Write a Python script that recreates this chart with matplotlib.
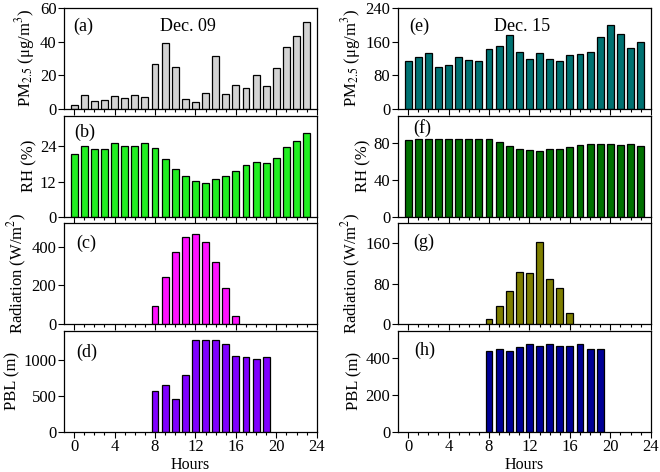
import matplotlib
matplotlib.use("Agg")
import matplotlib.pyplot as plt
import numpy as np

plt.rcParams['font.family'] = ['Liberation Serif', 'DejaVu Serif']
plt.rcParams['mathtext.fontset'] = 'stix'

hours = np.arange(24)
day_hours = np.arange(8, 20)
rad_hours = np.arange(8, 17)

# Dec. 09
pm_09 = [2.2, 8.3, 4.7, 5.1, 7.7, 6.7, 8.1, 6.9, 27, 39.5, 25, 6.1,
         4.3, 9.4, 31.3, 8.9, 14.4, 12.4, 20.5, 13.4, 24.2, 36.8, 43.5, 51.7]
rh_09 = [21.5, 24.3, 23.2, 23.1, 25.3, 24.1, 24.1, 25.1, 23.3, 19.7, 16.2, 13.9,
         12.2, 11.5, 13.0, 13.9, 15.7, 17.5, 18.7, 18.4, 20.1, 23.8, 25.7, 28.6]
rad_09 = [94, 242, 371, 450, 464, 424, 319, 187, 43]
pbl_09 = [558, 645, 447, 783, 1267, 1272, 1272, 1217, 1051, 1041, 1009, 1037]

# Dec. 15
pm_15 = [114, 124, 134, 101, 104, 123, 116, 115, 142, 150, 177, 136,
         119, 134, 120, 114, 129, 130, 135, 172, 199, 178, 146, 159]
rh_15 = [83.6, 84.7, 85, 84.7, 84.3, 84.3, 84.7, 84.3, 84.7, 81.4, 76.4, 74.2,
         72.4, 71, 73.5, 73.9, 76, 77.8, 78.6, 79.3, 79.6, 78.2, 78.6, 77.1]
rad_15 = [10, 37, 66, 104, 101, 163, 89, 71, 22]
pbl_15 = [440, 449, 441, 459, 477, 468, 477, 468, 468, 477, 450, 450]

fig = plt.figure(figsize=(6.6, 4.72), dpi=100)

lefts = [0.097, 0.603]
bottoms = [0.769, 0.541, 0.313, 0.0854]
w, h = 0.383, 0.214

pm_lab = 'PM$_{2.5}$ (\u03bcg/m$^3$)'
rad_lab = 'Radiation (W/m$^2$)'

panels = [
    # column, row, x, y, color, ylim, yticks, ylabel, tag, tag pos, title
    (0, 0, hours, pm_09, '#d3d3d3', 60, [0, 20, 40, 60], pm_lab, '(a)', (0.035, 0.82), 'Dec. 09'),
    (0, 1, hours, rh_09, '#22ee22', 34.5, [0, 12, 24], 'RH (%)', '(b)', (0.04, 0.83), None),
    (0, 2, rad_hours, rad_09, '#ff11ff', 520, [0, 200, 400], rad_lab, '(c)', (0.05, 0.80), None),
    (0, 3, day_hours, pbl_09, '#8000ff', 1400, [0, 500, 1000], 'PBL (m)', '(d)', (0.05, 0.79), None),
    (1, 0, hours, pm_15, '#007272', 240, [0, 80, 160, 240], pm_lab, '(e)', (0.045, 0.82), 'Dec. 15'),
    (1, 1, hours, rh_15, '#007000', 110, [0, 40, 80], 'RH (%)', '(f)', (0.06, 0.88), None),
    (1, 2, rad_hours, rad_15, '#7f7f00', 200, [0, 80, 160], rad_lab, '(g)', (0.06, 0.81), None),
    (1, 3, day_hours, pbl_15, '#000096', 550, [0, 200, 400], 'PBL (m)', '(h)', (0.065, 0.81), None),
]

for col, row, x, y, color, ymax, yt, ylab, tag, tpos, title in panels:
    ax = fig.add_axes([lefts[col], bottoms[row], w, h])
    ax.bar(x, y, width=0.68, color=color, edgecolor='black', linewidth=0.9)
    ax.set_xlim(-1, 24)
    ax.set_ylim(0, ymax)
    ax.set_yticks(yt)
    ax.set_xticks(np.arange(0, 25, 4))
    ax.set_xticks(np.arange(0, 25, 1), minor=True)
    ax.tick_params(axis='both', which='major', direction='out', length=4, width=0.8, labelsize=12, pad=1.5)
    ax.tick_params(axis='x', which='minor', direction='out', length=2, width=0.8)
    for s in ax.spines.values():
        s.set_linewidth(0.9)
    ax.set_ylabel(ylab, fontsize=12, labelpad=2)
    ax.text(tpos[0], tpos[1], tag, transform=ax.transAxes, fontsize=13, va='center')
    if title:
        ax.text(0.49, 0.82, title, transform=ax.transAxes, fontsize=13, va='center', ha='center')
    if row == 3:
        ax.set_xlabel('Hours', fontsize=11.5, labelpad=1)
    else:
        ax.tick_params(axis='x', labelbottom=False)

plt.savefig('out.png', dpi=100)
